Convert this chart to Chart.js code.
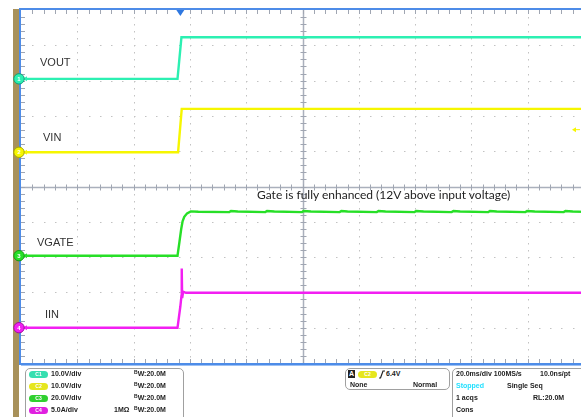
<!DOCTYPE html>
<html><head><meta charset="utf-8">
<script src="https://cdn.jsdelivr.net/npm/chart.js@4.4.1/dist/chart.umd.min.js"></script>
<style>
html,body{margin:0;padding:0;background:#fff;overflow:hidden;width:581px;height:417px;}
#wrap{position:relative;width:581px;height:417px;overflow:hidden;background:#fff;}
canvas{position:absolute;left:0;top:0;}
.lbl{position:absolute;font-family:"Liberation Sans",Arial,sans-serif;font-size:11px;line-height:11px;color:#333;white-space:nowrap;}
.note{position:absolute;font-family:Lato,"Open Sans",sans-serif;font-size:12px;line-height:12px;color:#222;white-space:nowrap;}
.panel{position:absolute;border:1px solid #a0a0a0;border-radius:5px;background:#fff;}
.t{position:absolute;font-family:"Liberation Sans",Arial,sans-serif;font-weight:bold;font-size:7px;line-height:8px;color:#222;white-space:nowrap;}
.pill{position:absolute;width:19px;height:7px;border-radius:4px;color:#fff;font-family:"Liberation Sans",Arial,sans-serif;font-size:5px;line-height:7px;text-align:center;font-weight:bold;}
.sb{font-size:5px;position:relative;top:-2px;}
</style>
</head><body>
<div id="wrap">
<canvas id="c" width="590" height="417"></canvas>
<div class="lbl" style="left:40px;top:57px;">VOUT</div>
<div class="lbl" style="left:43px;top:132px;">VIN</div>
<div class="lbl" style="left:37px;top:237px;">VGATE</div>
<div class="lbl" style="left:45px;top:309px;">IIN</div>
<div class="note" id="note" style="left:257px;top:189px;">Gate is fully enhanced (12V above input voltage)</div>

<div class="panel" style="left:25px;top:368px;width:157px;height:60px;"></div>
<div class="pill" style="left:29px;top:371px;background:#36dfb0;">C1</div>
<div class="t" style="left:51px;top:370px;">10.0V/div</div>
<div class="t" style="left:134px;top:370px;"><span class="sb">B</span>W:20.0M</div>
<div class="pill" style="left:29px;top:383px;background:#e6e61e;">C2</div>
<div class="t" style="left:51px;top:382px;">10.0V/div</div>
<div class="t" style="left:134px;top:382px;"><span class="sb">B</span>W:20.0M</div>
<div class="pill" style="left:29px;top:395px;background:#2fd02f;">C3</div>
<div class="t" style="left:51px;top:394px;">20.0V/div</div>
<div class="t" style="left:134px;top:394px;"><span class="sb">B</span>W:20.0M</div>
<div class="pill" style="left:29px;top:407px;background:#e020e0;">C4</div>
<div class="t" style="left:51px;top:406px;">5.0A/div</div>
<div class="t" style="left:114px;top:406px;">1MΩ</div>
<div class="t" style="left:134px;top:406px;"><span class="sb">B</span>W:20.0M</div>

<div class="panel" style="left:345px;top:368px;width:103px;height:20px;"></div>
<div class="t" style="left:348px;top:370px;width:7px;height:8px;background:#222;color:#fff;text-align:center;">A</div>
<div class="pill" style="left:358px;top:371px;background:#e6e61e;">C2</div>
<svg style="position:absolute;left:379px;top:370px;" width="6" height="9"><polyline points="0,8 1.5,8 4,1 6,1" fill="none" stroke="#222" stroke-width="1.2"/></svg>
<div class="t" style="left:386px;top:370px;">6.4V</div>
<div class="t" style="left:350px;top:381px;">None</div>
<div class="t" style="left:413px;top:381px;">Normal</div>

<div class="panel" style="left:452px;top:368px;width:140px;height:60px;"></div>
<div class="t" style="left:456px;top:370px;">20.0ms/div 100MS/s</div>
<div class="t" style="left:540px;top:370px;">10.0ns/pt</div>
<div class="t" style="left:456px;top:382px;color:#22e0ff;">Stopped</div>
<div class="t" style="left:507px;top:382px;">Single Seq</div>
<div class="t" style="left:456px;top:394px;">1 acqs</div>
<div class="t" style="left:533px;top:394px;">RL:20.0M</div>
<div class="t" style="left:456px;top:406px;">Cons</div>
</div>
<script>
// ---- data (time in ms from left edge of screen, 20 ms/div) ----
const channelNames = ['VOUT', 'VIN', 'VGATE', 'IIN'];
const unitsPerDiv = [10, 10, 20, 5];          // V/div, V/div, V/div, A/div
const groundDiv = [3.05, 0.97, -1.96, -4];    // channel offset in divisions from centre
const triggerTimeMs = 56.6;
const triggerLevelV = 6.4;                    // on C2

const voutT = [0, 55.6, 57.0, 200];
const voutV = [0, 0, 11.8, 11.8];

const vinT = [0, 55.8, 57.1, 200];
const vinV = [0, 0, 12.3, 12.3];

const vgateT = [0, 55.6, 56.3, 56.9, 57.4, 58.0, 59.0, 60.3, 63.0, 74.0, 74.6, 77.0, 86.8, 87.4, 90.0,
  99.8, 100.3, 103.0, 113.2, 113.8, 116.0, 126.4, 127.0, 129.5, 139.8, 140.4, 143.0, 153.0, 153.6, 156.0,
  166.0, 166.6, 169.0, 179.2, 179.8, 182.5, 192.8, 193.4, 196.0, 200];
const vgateV = [0, 0, 8, 15, 19.5, 22, 24, 25.1, 24.9, 24.7, 25.3, 25.0, 24.7, 25.3, 25.0,
  24.7, 25.3, 25.0, 24.7, 25.3, 25.0, 24.7, 25.3, 25.0, 24.7, 25.3, 25.0, 24.7, 25.3, 25.0,
  24.7, 25.3, 25.0, 24.7, 25.3, 25.0, 24.7, 25.3, 25.0, 24.8];

const iinT = [0, 55.6, 56.6, 57.0, 57.1, 57.25, 57.6, 58.6, 200];
const iinV = [0, 0, 3.0, 4.5, 8.4, 4.2, 5.1, 4.95, 4.95];

const traceColors = ['#2cf0b2', '#f6f600', '#27df27', '#f21ff2'];
const markerEdge = ['#12a07a', '#a8a800', '#139a13', '#a010a0'];

function pts(t, v) { return t.map((x, i) => ({ x: x, y: v[i] })); }
const series = [pts(voutT, voutV), pts(vinT, vinV), pts(vgateT, vgateV), pts(iinT, iinV)];

const scales = {
  x: { type: 'linear', min: 0, max: 200, display: false },
  g: { type: 'linear', min: -5, max: 5, display: false, position: 'left' }
};
for (let i = 0; i < 4; i++) {
  scales['c' + (i + 1)] = {
    type: 'linear', display: false, position: 'left',
    min: (-5 - groundDiv[i]) * unitsPerDiv[i],
    max: (5 - groundDiv[i]) * unitsPerDiv[i]
  };
}

const graticule = {
  id: 'graticule',
  beforeDatasetsDraw(chart) {
    const ctx = chart.ctx;
    const { left, right, top, bottom } = chart.chartArea;
    const xs = chart.scales.x, ys = chart.scales.g;
    ctx.save();
    ctx.fillStyle = '#c2c2c2';
    for (let i = 1; i < 10; i++) {
      if (i === 5) continue;
      const x = Math.round(xs.getPixelForValue(i * 20));
      for (let j = 1; j < 50; j++) ctx.fillRect(x, Math.round(ys.getPixelForValue(-5 + j * 0.2)), 1, 1.5);
    }
    for (let k = -4; k <= 4; k++) {
      if (k === 0) continue;
      const y = Math.round(ys.getPixelForValue(k));
      for (let j = 1; j < 50; j++) ctx.fillRect(Math.round(xs.getPixelForValue(j * 4)), y, 1.5, 1);
    }
    const cx = Math.round(xs.getPixelForValue(100)) + 0.5;
    const cy = Math.round(ys.getPixelForValue(0)) + 0.5;
    ctx.strokeStyle = '#aab0bc';
    ctx.lineWidth = 1.5;
    ctx.beginPath();
    ctx.moveTo(cx, top); ctx.lineTo(cx, bottom);
    ctx.moveTo(left, cy); ctx.lineTo(right, cy);
    ctx.stroke();
    ctx.lineWidth = 1;
    ctx.strokeStyle = '#a0a6b2';
    ctx.beginPath();
    for (let j = 1; j < 50; j++) {
      const x = Math.round(xs.getPixelForValue(j * 4)) + 0.5;
      ctx.moveTo(x, cy - 3); ctx.lineTo(x, cy + 3);
      ctx.moveTo(x, top); ctx.lineTo(x, top + 4);
      ctx.moveTo(x, bottom); ctx.lineTo(x, bottom - 4);
      const y = Math.round(ys.getPixelForValue(-5 + j * 0.2)) + 0.5;
      ctx.moveTo(cx - 3, y); ctx.lineTo(cx + 3, y);
      ctx.moveTo(left, y); ctx.lineTo(left + 4, y);
    }
    ctx.stroke();
    ctx.restore();
  },
  afterDatasetsDraw(chart) {
    const ctx = chart.ctx;
    const { left, right, top, bottom } = chart.chartArea;
    const xs = chart.scales.x;
    ctx.save();
    ctx.fillStyle = '#a8915a';
    ctx.fillRect(left - 8, top - 1, 6, chart.height - top + 1);
    ctx.fillStyle = '#4d8ce8';
    ctx.fillRect(left - 2, top - 2, right - left + 4, 2);
    ctx.fillRect(left - 2, top - 2, 2, bottom - top + 4);
    ctx.fillRect(left - 2, bottom, right - left + 4, 2);
    ctx.fillStyle = '#9cc0f4';
    ctx.fillRect(left, bottom + 2, right - left, 1);
    const tx = xs.getPixelForValue(triggerTimeMs);
    ctx.fillStyle = '#2f78e0';
    ctx.beginPath();
    ctx.moveTo(tx - 4, top); ctx.lineTo(tx + 4, top); ctx.lineTo(tx, top + 6); ctx.closePath();
    ctx.fill();
    const ty = chart.scales.c2.getPixelForValue(triggerLevelV);
    ctx.fillStyle = traceColors[1];
    ctx.beginPath();
    ctx.moveTo(right - 12, ty); ctx.lineTo(right - 8, ty - 2.5); ctx.lineTo(right - 8, ty + 2.5); ctx.closePath();
    ctx.fill();
    ctx.fillRect(right - 8, ty - 0.5, 4, 1);
    for (let i = 0; i < 4; i++) {
      const y = chart.scales['c' + (i + 1)].getPixelForValue(0);
      const x = left - 2;
      ctx.fillStyle = traceColors[i];
      ctx.beginPath();
      ctx.moveTo(left + 2, y); ctx.lineTo(left + 6, y - 2.5); ctx.lineTo(left + 6, y + 2.5); ctx.closePath();
      ctx.fill();
      ctx.beginPath();
      ctx.arc(x, y, 5.2, 0, Math.PI * 2);
      ctx.fill();
      ctx.strokeStyle = markerEdge[i];
      ctx.lineWidth = 1;
      ctx.stroke();
      ctx.fillStyle = '#ffffff';
      ctx.font = 'bold 6px "Liberation Sans", Arial, sans-serif';
      ctx.textAlign = 'center';
      ctx.textBaseline = 'middle';
      ctx.fillText(String(i + 1), x, y + 0.5);
    }
    ctx.restore();
  }
};

new Chart(document.getElementById('c'), {
  type: 'line',
  data: {
    datasets: series.map((d, i) => ({
      label: channelNames[i],
      data: d,
      yAxisID: 'c' + (i + 1),
      borderColor: traceColors[i],
      borderWidth: 2.4,
      pointRadius: 0,
      tension: 0,
      fill: false
    }))
  },
  options: {
    responsive: false,
    animation: false,
    events: [],
    layout: { padding: { left: 21, top: 10, right: 6, bottom: 54 } },
    plugins: { legend: { display: false }, tooltip: { enabled: false } },
    scales: scales
  },
  plugins: [graticule]
});
</script>
</body></html>
